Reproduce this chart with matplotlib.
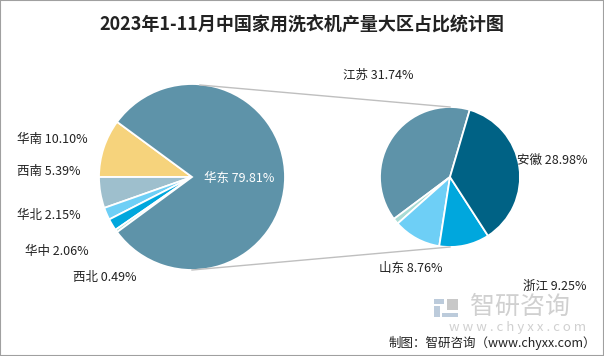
import matplotlib.pyplot as plt
from matplotlib.patches import Rectangle

plt.rcParams['font.family'] = ['Noto Sans CJK SC', 'DejaVu Sans']

# data
title = "2023年1-11月中国家用洗衣机产量大区占比统计图"
region_names = ["华南", "西南", "华北", "华中", "西北", "华东"]
region_share = [10.10, 5.39, 2.15, 2.06, 0.49, 79.81]
region_colors = ["#F6D37C", "#9EBFCD", "#6ECFF6", "#00A7DD", "#A8DCD5", "#5E93A9"]

prov_names = ["江苏", "其他", "山东", "浙江", "安徽"]
prov_share = [31.74, 1.08, 8.76, 9.25, 28.98]
prov_colors = ["#5E93A9", "#A8DCD5", "#6ECFF6", "#00A7DD", "#006285"]

W, H = 604, 356
fig = plt.figure(figsize=(W / 100, H / 100), dpi=100)
ax = fig.add_axes([0, 0, 1, 1])

def py(y):
    # pixel row (from top) -> data y
    return H - y

# left pie, the small regions centred around 180 degrees
lc, lr = (192, py(177)), 93
small = sum(region_share[:-1])
ax.pie(region_share, colors=region_colors, center=lc, radius=lr,
       startangle=180 - small / 100 * 180, counterclock=True,
       wedgeprops=dict(edgecolor="white", linewidth=1.3))

# right pie: breakdown of 华东
rc, rr = (450, py(177)), 70
ax.pie(prov_share, colors=prov_colors, center=rc, radius=rr,
       startangle=73.6, counterclock=True,
       wedgeprops=dict(edgecolor="white", linewidth=1.3))

# connector lines
ax.plot([lc[0] + 8, rc[0]], [lc[1] + lr - 1, rc[1] + rr], color="#BFBFBF", lw=1)
ax.plot([lc[0], rc[0]], [lc[1] - lr, rc[1] - rr], color="#BFBFBF", lw=1)

ax.set_xlim(0, W)
ax.set_ylim(0, H)
ax.axis("off")

# labels
fs = 9
left_pos = {"华南": (17, 139), "西南": (17, 171), "华北": (17, 215),
            "华中": (25, 251), "西北": (73, 278)}
for name, val in zip(region_names, region_share):
    if name in left_pos:
        x, y = left_pos[name]
        ax.text(x, py(y), f"{name} {val:.2f}%", fontsize=fs, color="#222222",
                va="center", ha="left")
ax.text(204, py(178), f"{region_names[-1]} {region_share[-1]:.2f}%", fontsize=fs,
        color="white", va="center", ha="left")

right_pos = {"江苏": (343, 75), "安徽": (517, 160), "山东": (379, 268), "浙江": (523, 286)}
for name, val in zip(prov_names, prov_share):
    if name in right_pos:
        x, y = right_pos[name]
        ax.text(x, py(y), f"{name} {val:.2f}%", fontsize=fs, color="#222222",
                va="center", ha="left")

# title
ax.text(W / 2, py(25), title, fontsize=13, fontweight="bold", color="#222222",
        ha="center", va="center")

# watermark
for (x, y, w, h, c) in [(434, 299, 10, 5, "#BCCBDB"), (434, 306, 6, 11, "#BCCBDB"),
                        (447, 299, 11, 11, "#C8C8C8"), (442, 313, 16, 4, "#BCCBDB")]:
    ax.add_patch(Rectangle((x, py(y + h)), w, h, color=c, lw=0))
ax.text(470, py(307), "智研咨询", fontsize=18, color="#D0D0D0", ha="left", va="center")
ax.text(586, py(328), "w w w . c h y x x . c o m", fontsize=9.5, color="#D0D0D0",
        ha="right", va="center")
ax.text(389, py(343), "制图：智研咨询（www.chyxx.com）", fontsize=9, color="#222222",
        ha="left", va="center")

# frame
fig.patches.append(Rectangle((0, 0), 1, 1, transform=fig.transFigure, fill=False,
                             edgecolor="#A0A0A0", lw=1.5))

fig.savefig("out.png", dpi=100)
